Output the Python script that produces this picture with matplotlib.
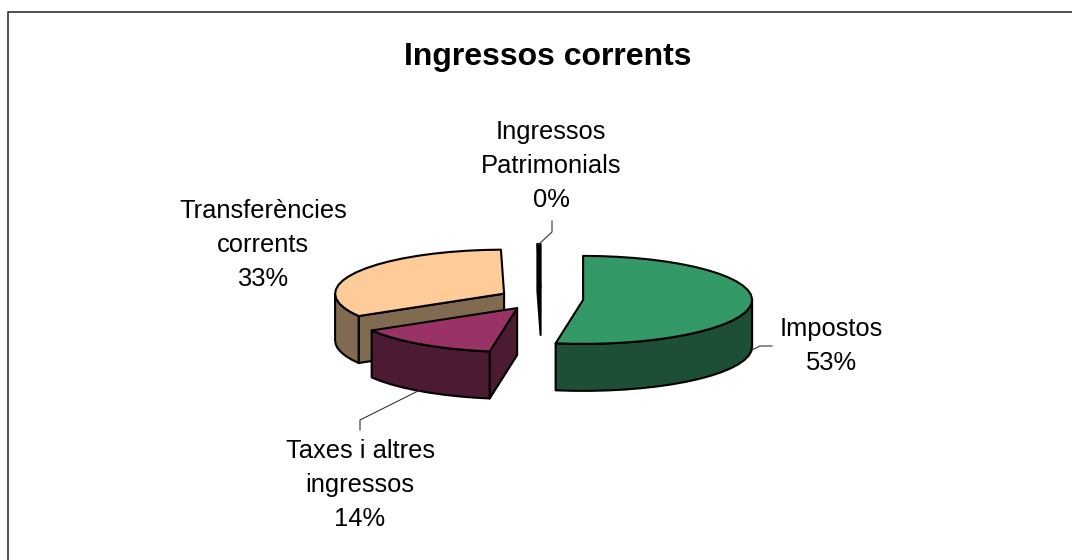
import numpy as np
import matplotlib.pyplot as plt
from matplotlib.patches import Polygon

plt.rcParams['font.family'] = ['Liberation Sans', 'DejaVu Sans']

# share of each slice, clockwise from 12 o'clock
labels = ['Impostos', 'Taxes i altres\ningressos', 'Transferències\ncorrents', 'Ingressos\nPatrimonials']
values = [52.6, 13.9, 33.2, 0.3]
percent = ['53%', '14%', '33%', '0%']
top_colors = ['#339966', '#993366', '#FFCC99', '#000000']
side_colors = ['#1C4F35', '#4C1A33', '#806A50', '#000000']

# pie geometry in pixels
cx, cy = 541, 299
rx, ry = 169, 44
depth = 47
explode = 0.25

fig = plt.figure(figsize=(10.72, 5.6), dpi=100)
ax = fig.add_axes([0, 0, 1, 1])
ax.set_xlim(0, 1072)
ax.set_ylim(560, 0)
ax.axis('off')

# chart frame, cut off by the image on the right and at the bottom
ax.plot([8, 8, 1072], [560, 12, 12], color='#333333', lw=1.2)

ax.text(548, 57, 'Ingressos corrents', ha='center', va='center', fontsize=23, fontweight='bold')


def arc(a0, a1, x0, y0):
    n = max(2, int(abs(a1 - a0) / 6) + 2)
    t = np.radians(np.linspace(a0, a1, n))
    return np.column_stack([x0 + rx * np.sin(t), y0 - ry * np.cos(t)])


def face(points, color, z):
    ax.add_patch(Polygon(points, closed=True, fc=color, ec='black', lw=1.5, joinstyle='round', zorder=z))


fracs = np.array(values) / sum(values) * 360
starts = np.concatenate([[0], np.cumsum(fracs)[:-1]])

# back to front so that the nearer slices cover the others
order = [2, 1, 0, 3]
for z, i in enumerate(order):
    a0, a1 = starts[i], starts[i] + fracs[i]
    mid = np.radians((a0 + a1) / 2)
    x0 = cx + explode * rx * np.sin(mid)
    y0 = cy - explode * ry * np.cos(mid)
    apex = np.array([x0, y0])
    down = np.array([0, depth])
    edge = arc(a0, a1, x0, y0)
    base = z * 10
    # cut faces, only those turned to the viewer
    for p, normal in ((edge[0], a0 - 90), (edge[-1], a1 + 90)):
        if np.cos(np.radians(normal)) < -1e-6:
            face([apex, p, p + down, apex + down], side_colors[i], base + 1)
    # outer rim, only the part turned to the viewer
    v0, v1 = max(a0, 90), min(a1, 270)
    if v1 > v0:
        rim = arc(v0, v1, x0, y0)
        face(np.vstack([rim, (rim + down)[::-1]]), side_colors[i], base + 2)
    # top
    face(np.vstack([apex, edge]), top_colors[i], base + 3)

# data labels
txt = dict(ha='center', va='center', fontsize=18.4, linespacing=1.55, zorder=100)
ax.text(831, 346, labels[0] + '\n' + percent[0], **txt)
ax.text(360, 485, labels[1] + '\n' + percent[1], **txt)
ax.text(263, 245, labels[2] + '\n' + percent[2], **txt)
ax.text(551, 166, labels[3] + '\n' + percent[3], **txt)

# leader lines
lead = dict(color='#333333', lw=0.8, zorder=99)
ax.plot([752, 760, 772], [350, 346, 346], **lead)
ax.plot([420, 360, 360], [390, 420, 430], **lead)
ax.plot([538, 552, 552], [245, 232, 221], **lead)

fig.savefig('out.png', dpi=100)
